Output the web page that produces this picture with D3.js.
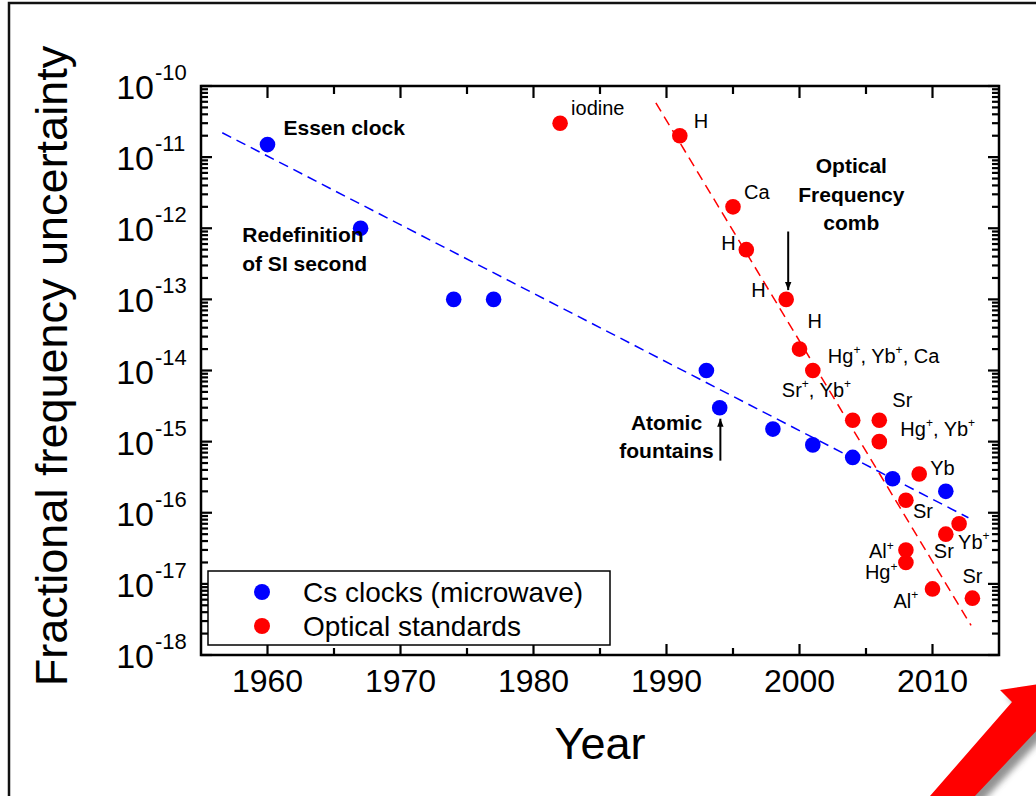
<!DOCTYPE html>
<html>
<head>
<meta charset="utf-8">
<script src="https://cdn.jsdelivr.net/npm/d3@7"></script>
<style>
  body { margin: 0; background: #fff; }
  svg { display: block; }
  text { font-family: Arial, "Liberation Sans", sans-serif; fill: #000; }
</style>
</head>
<body>
<script>
// Cs clocks (microwave)
const csYears  = [1960, 1967, 1974, 1977, 1993, 1994, 1998, 2001, 2004, 2007, 2011];
const csValues = [1.5e-11, 1e-12, 1e-13, 1e-13, 1e-14, 3e-15, 1.5e-15, 9e-16, 6e-16, 3e-16, 2e-16];

// optical standards
const optYears  = [1982, 1991, 1995, 1996, 1999, 2000, 2001, 2004, 2006, 2006, 2009, 2008, 2012, 2011, 2008, 2008, 2010, 2013];
const optValues = [3e-11, 2e-11, 2e-12, 5e-13, 1e-13, 2e-14, 1e-14, 2e-15, 2e-15, 1e-15, 3.5e-16, 1.5e-16, 7e-17, 5e-17, 3e-17, 2e-17, 8.5e-18, 6.3e-18];
const optLabels = ["iodine", "H", "Ca", "H", "H", "H", "Hg^+, Yb^+, Ca", "", "Sr", "Hg^+, Yb^+", "Yb", "Sr", "Yb^+", "Sr", "Al^+", "Hg^+", "Al^+", "Sr"];
// second label for the 2001 point
const extraLabels = [{i: 6, text: "Sr^+, Yb^+"}];

// trend lines (year, value)
const csFit  = [[1956.6, 2.2e-11], [2012.7, 8.5e-17]];
const optFit = [[1989.2, 5.8e-11], [2012.9, 2.6e-18]];

// axis ticks
const xTicks = [1960, 1970, 1980, 1990, 2000, 2010];
const xMinor = [1965, 1975, 1985, 1995, 2005];
const yExponents = [-18, -17, -16, -15, -14, -13, -12, -11, -10];

const legendNames = ["Cs clocks (microwave)", "Optical standards"];

// label offsets in px from each optical point (layout only)
const labelOffsets = [[11, -8], [14, -8], [11, -8], [-25, 0], [-35, -2], [8, -21], [15, -8], [0, 0],
  [13, -13], [21, -6], [11, 1], [7, 18], [-1, 25], [-12, 24], [-37, 8], [-41, 17], [-39, 19], [-10, -15]];
const extraOffsets = [[-31, 26]];

const width = 1036, height = 796;
const blue = "#0000ff", red = "#ff0000";

const svg = d3.select("body").append("svg")
  .attr("width", width).attr("height", height);

const defs = svg.append("defs");
defs.append("filter").attr("id", "blur")
  .append("feGaussianBlur").attr("stdDeviation", 3);
defs.append("marker").attr("id", "head")
  .attr("viewBox", "0 0 10 10").attr("refX", 10).attr("refY", 5)
  .attr("markerWidth", 4).attr("markerHeight", 4).attr("orient", "auto")
  .attr("markerUnits", "strokeWidth")
  .append("path").attr("d", "M0,1 L10,5 L0,9 Z").attr("fill", "#000");

// outer frame of the slide
svg.append("path").attr("d", "M9,796 V3 H1036")
  .attr("fill", "none").attr("stroke", "#111").attr("stroke-width", 2.5);

const x = d3.scaleLinear().domain([1955, 2015]).range([201, 999]);
const y = d3.scaleLog().domain([1e-18, 1e-10]).range([655, 86]);
const [x0, x1] = x.range();
const [y0, y1] = y.range();

const yMajor = yExponents.map(e => Math.pow(10, e));
const yMinor = [];
yExponents.slice(0, -1).forEach(e => {
  [2, 3, 4, 5, 6, 7, 8, 9].forEach(k => yMinor.push(k * Math.pow(10, e)));
});

// inward ticks on all four sides
const tickG = svg.append("g").attr("stroke", "#000").attr("stroke-width", 2.2);
function xTickLines(vals, len) {
  vals.forEach(v => {
    tickG.append("line").attr("x1", x(v)).attr("x2", x(v)).attr("y1", y0).attr("y2", y0 - len);
    tickG.append("line").attr("x1", x(v)).attr("x2", x(v)).attr("y1", y1).attr("y2", y1 + len + 1);
  });
}
function yTickLines(vals, len) {
  vals.forEach(v => {
    tickG.append("line").attr("y1", y(v)).attr("y2", y(v)).attr("x1", x0).attr("x2", x0 + len);
    tickG.append("line").attr("y1", y(v)).attr("y2", y(v)).attr("x1", x1).attr("x2", x1 - len);
  });
}
xTickLines(xTicks, 11);
xTickLines(xMinor, 7);
yTickLines(yMajor, 11);
yTickLines(yMinor, 7);

svg.append("rect")
  .attr("x", x0).attr("y", y1).attr("width", x1 - x0).attr("height", y0 - y1)
  .attr("fill", "none").attr("stroke", "#000").attr("stroke-width", 2.5);

// tick labels
svg.append("g").selectAll("text").data(xTicks).join("text")
  .attr("x", d => x(d)).attr("y", 692)
  .attr("text-anchor", "middle").attr("font-size", 32)
  .text(d => d);

const yl = svg.append("g").selectAll("g").data(yExponents).join("g");
yl.append("text")
  .attr("x", 154).attr("y", d => y(Math.pow(10, d)) + 13)
  .attr("text-anchor", "end").attr("font-size", 34).text("10");
yl.append("text")
  .attr("x", 155).attr("y", d => y(Math.pow(10, d)) - 6)
  .attr("font-size", 22).text(d => "-" + Math.abs(d));

// axis titles
svg.append("text").attr("x", 600).attr("y", 759)
  .attr("text-anchor", "middle").attr("font-size", 45).text("Year");
svg.append("text").attr("transform", "translate(67,366) rotate(-90)")
  .attr("text-anchor", "middle").attr("font-size", 45)
  .text("Fractional frequency uncertainty");

// trend lines
const line = d3.line().x(d => x(d[0])).y(d => y(d[1]));
svg.append("path").datum(csFit).attr("d", line)
  .attr("fill", "none").attr("stroke", blue).attr("stroke-width", 1.5)
  .attr("stroke-dasharray", "10,6");
svg.append("path").datum(optFit).attr("d", line)
  .attr("fill", "none").attr("stroke", red).attr("stroke-width", 1.5)
  .attr("stroke-dasharray", "10,6");

// points
svg.append("g").selectAll("circle").data(csYears).join("circle")
  .attr("cx", d => x(d)).attr("cy", (d, i) => y(csValues[i]))
  .attr("r", 7.8).attr("fill", blue);
svg.append("g").selectAll("circle").data(optYears).join("circle")
  .attr("cx", d => x(d)).attr("cy", (d, i) => y(optValues[i]))
  .attr("r", 7.8).attr("fill", red);

// text with "^+" superscripts
function rich(sel, str, size) {
  const parts = str.split("^+");
  parts.forEach((p, k) => {
    const t = sel.append("tspan").text(p);
    if (k > 0) t.attr("dy", size * 0.42).attr("font-size", size);
    if (k < parts.length - 1) {
      sel.append("tspan").text("+").attr("font-size", size * 0.6).attr("dy", -size * 0.42);
    }
  });
}

const labG = svg.append("g");
optLabels.forEach((s, i) => {
  if (!s) return;
  const t = labG.append("text")
    .attr("x", x(optYears[i]) + labelOffsets[i][0])
    .attr("y", y(optValues[i]) + labelOffsets[i][1])
    .attr("font-size", 20);
  rich(t, s, 20);
});
extraLabels.forEach((e, j) => {
  const t = labG.append("text")
    .attr("x", x(optYears[e.i]) + extraOffsets[j][0])
    .attr("y", y(optValues[e.i]) + extraOffsets[j][1])
    .attr("font-size", 20);
  rich(t, e.text, 20);
});

// bold annotations (year, log10 value of first baseline)
const notes = [
  {year: 1961.2, exp: -10.69, lines: ["Essen clock"], anchor: "start"},
  {year: 1958.1, exp: -12.2, lines: ["Redefinition", "of SI second"], anchor: "start"},
  {year: 2003.9, exp: -11.23, lines: ["Optical", "Frequency", "comb"], anchor: "middle"},
  {year: 1990.0, exp: -14.83, lines: ["Atomic", "fountains"], anchor: "middle"}
];
notes.forEach(n => {
  const t = svg.append("text").attr("font-size", 21).attr("font-weight", "bold")
    .attr("text-anchor", n.anchor);
  n.lines.forEach((l, k) => {
    t.append("tspan").attr("x", x(n.year))
      .attr("y", y(Math.pow(10, n.exp)) + k * 28.5).text(l);
  });
});

// arrows
const arrows = [
  {year: 1999.15, from: 9e-13, to: 1.35e-13},
  {year: 1994.05, from: 5.4e-16, to: 2.1e-15}
];
svg.append("g").selectAll("line").data(arrows).join("line")
  .attr("x1", d => x(d.year)).attr("x2", d => x(d.year))
  .attr("y1", d => y(d.from)).attr("y2", d => y(d.to))
  .attr("stroke", "#000").attr("stroke-width", 2)
  .attr("marker-end", "url(#head)");

// legend
const leg = svg.append("g");
leg.append("rect").attr("x", 208).attr("y", 571).attr("width", 402).attr("height", 74)
  .attr("fill", "#fff").attr("stroke", "#000").attr("stroke-width", 1.5);
legendNames.forEach((nm, i) => {
  leg.append("circle").attr("cx", 262).attr("cy", 592 + i * 34).attr("r", 8)
    .attr("fill", i ? red : blue);
  leg.append("text").attr("x", 303).attr("y", 602 + i * 34)
    .attr("font-size", 28).text(nm);
});

// red decorative arrow in the corner
const bigArrow = "M930,796 L1012,702 L1000,690 L1040,684 L1040,727 L975,796 Z";
svg.append("path").attr("d", bigArrow).attr("fill", "#777")
  .attr("transform", "translate(7,6)").attr("filter", "url(#blur)").attr("opacity", 0.8);
svg.append("path").attr("d", bigArrow).attr("fill", red);
</script>
</body>
</html>
